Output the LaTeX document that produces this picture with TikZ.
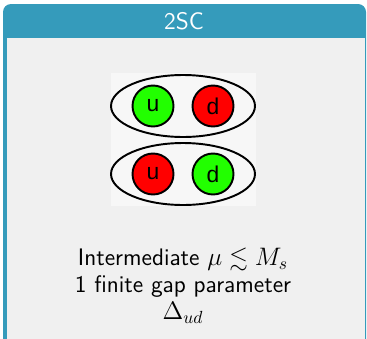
\documentclass[tikz,border=0pt]{standalone}
\usepackage{fontspec}
\usepackage{amssymb}
\usetikzlibrary{shapes.geometric}
\newfontfamily\quarkfont{Liberation Sans}
\definecolor{titleblue}{RGB}{53,155,187}
\definecolor{bodygray}{RGB}{240,240,240}
\definecolor{photobg}{RGB}{247,247,247}
\definecolor{qgreen}{RGB}{34,255,0}
\definecolor{qred}{RGB}{255,0,0}

\begin{document}
\begin{tikzpicture}[x=0.02cm, y=-0.02cm,
        pair/.style={ellipse, draw=black, line width=1.1pt, minimum width=2.88cm,
                     minimum height=1.24cm, inner sep=0pt},
        quark/.style={circle, draw=black, line width=1.1pt, minimum size=0.82cm,
                      inner sep=0pt, font=\quarkfont\fontsize{13}{14}\selectfont},
        txt/.style={font=\sffamily\fontsize{13.6}{15.3}\selectfont, align=center}]
      \useasboundingbox (0,0) rectangle (367,338);
      \clip (0,0) rectangle (367,338);
      % block frame
      \fill[titleblue, rounded corners=0.16cm] (3,4) rectangle (366,350);
      \fill[bodygray] (7,38) rectangle (365,350);
      \node[txt, text=white] (title) at (184,21) {2SC};
      % pairing picture
      \fill[photobg] (111,73) rectangle (256,206);
      \node[pair] (top) at (183,106) {};
      \node[pair] (bot) at (183,174) {};
      \node[quark, fill=qgreen] (u1) at (153,106) {u};
      \node[quark, fill=qred] (d1) at (213,106) {d};
      \node[quark, fill=qred] (u2) at (153,174) {u};
      \node[quark, fill=qgreen] (d2) at (213,174) {d};
      % caption
      \node[txt] (caption) at (183,286) {Intermediate $\mu \lesssim M_s$\\
        1 finite gap parameter\\ $\Delta_{ud}$};
    \end{tikzpicture}
\end{document}
